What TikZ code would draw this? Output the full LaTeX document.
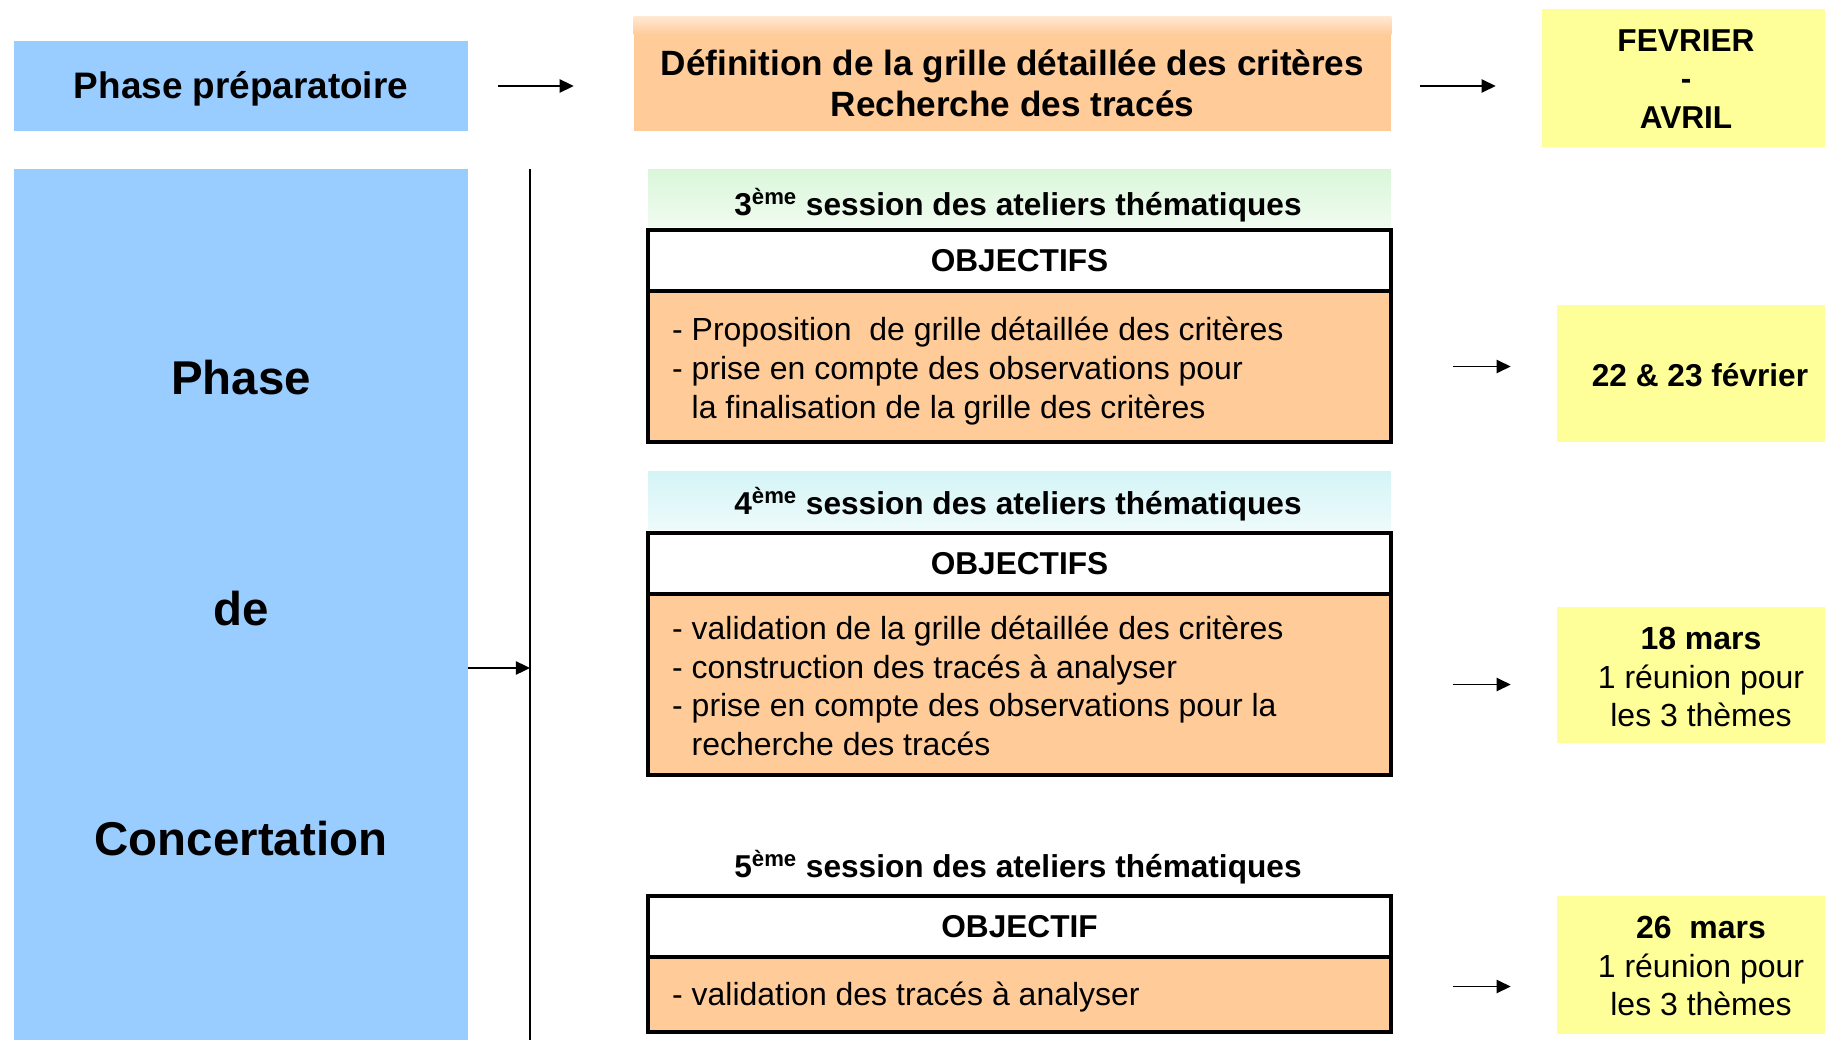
\documentclass[tikz,border=0pt]{standalone}
\usepackage{fontspec}
\setmainfont{Liberation Sans}
\usepackage{tikz}
\usetikzlibrary{arrows.meta,shapes,calc}

\definecolor{bleuphase}{RGB}{153,204,255}
\definecolor{saumon}{RGB}{255,204,153}
\definecolor{saumonclair}{RGB}{255,232,208}
\definecolor{jaune}{RGB}{255,255,153}
\definecolor{vertpale}{RGB}{218,246,218}
\definecolor{cyanpale}{RGB}{212,244,246}

\begin{document}
\begin{tikzpicture}[x=0.02cm,y=-0.02cm,
  bloc/.style={rectangle,inner sep=0pt,align=center},
  txt/.style={font=\fontsize{18.2}{22}\selectfont},
  gras/.style={font=\fontsize{18}{22}\selectfont\bfseries},
  titre/.style={font=\fontsize{20}{23.5}\selectfont\bfseries},
  grand/.style={font=\fontsize{27}{32}\selectfont\bfseries},
  cadre/.style={draw=black,line width=2.6pt},
  fleche/.style={line width=1.1pt,-{Triangle[length=8pt,width=7.5pt]}}]
\useasboundingbox (0,0) rectangle (1825,1040);

% phase preparatoire
\node[bloc,fill=bleuphase,minimum width=9.08cm,minimum height=1.8cm] (prep) at (241,86) {};
\node[font=\fontsize{21}{25}\selectfont\bfseries] (preptxt) at (241,89) {Phase préparatoire};
\node[bloc,fill=saumon,minimum width=15.14cm,minimum height=2.28cm] (defi) at (1012.5,74) {};
\shade[top color=saumonclair,bottom color=saumon] (defi.north west) rectangle ($(defi.north east)+(0,18)$);
\node[titre,align=center] (defitxt) at (1012.5,83) {Définition de la grille détaillée des critères\\Recherche des tracés};
\node[bloc,fill=jaune,minimum width=5.66cm,minimum height=2.76cm] (fevr) at (1683.5,78) {};
\node[gras,align=center] (fevrtxt) at (1686,79) {FEVRIER\\-\\AVRIL};

\draw[fleche,shorten <=0.6cm,shorten >=1.2cm] (prep.east) -- (prep.east -| defi.west);
\draw[fleche,shorten <=0.58cm,shorten >=0.92cm] (prep.east -| defi.east) -- (prep.east -| fevr.west);

% phase de concertation
\node[bloc,fill=bleuphase,minimum width=9.08cm,minimum height=17.42cm] (concert) at (241,604.5) {};
\node[grand] (phase) at (241,378) {Phase};
\node[grand] (de) at (241,609) {de};
\node[grand] (concertation) at (241,839) {Concertation};

\coordinate (haut) at (530,169);
\coordinate (bas) at (530,1040);
\coordinate (pivot) at (530,668);
\draw[line width=1.2pt] (haut) -- (bas);
\draw[fleche] (concert.east |- pivot) -- (pivot);

% 3eme session
\node[bloc,minimum width=14.86cm,minimum height=1.16cm,top color=vertpale,bottom color=vertpale!40] (tete3) at (1019.5,198) {};
\node[gras] (tete3txt) at (1018,205) {3\textsuperscript{ème} session des ateliers thématiques};
\node[bloc,cadre,fill=white,minimum width=14.86cm,minimum height=1.24cm,gras] (obj3) at (1019.5,261) {OBJECTIFS};
\node[bloc,cadre,fill=saumon,minimum width=14.86cm,minimum height=3.02cm] (corps3) at (1019.5,366.5) {};
\node[txt,align=left,anchor=west] (liste3) at (666,371) {- Proposition\ \ de grille détaillée des critères\\- prise en compte des observations pour\\\hphantom{- }la finalisation de la grille des critères};
\node[bloc,fill=jaune,minimum width=5.36cm,minimum height=2.74cm] (d3) at (1691,373.5) {};
\node[gras] (d3txt) at (1700,375) {22 \& 23 février};
\draw[fleche,shorten <=1.2cm,shorten >=0.92cm] (corps3.east) -- (corps3.east -| d3.west);

% 4eme session
\node[bloc,minimum width=14.86cm,minimum height=1.18cm,top color=cyanpale,bottom color=cyanpale!40] (tete4) at (1019.5,500.5) {};
\node[gras] (tete4txt) at (1018,504) {4\textsuperscript{ème} session des ateliers thématiques};
\node[bloc,cadre,fill=white,minimum width=14.86cm,minimum height=1.24cm,gras] (obj4) at (1019.5,564) {OBJECTIFS};
\node[bloc,cadre,fill=saumon,minimum width=14.86cm,minimum height=3.62cm] (corps4) at (1019.5,684.5) {};
\node[txt,align=left,anchor=west] (liste4) at (666,686) {- validation de la grille détaillée des critères\\- construction des tracés à analyser\\- prise en compte des observations pour la\\\hphantom{- }recherche des tracés};
\node[bloc,fill=jaune,minimum width=5.36cm,minimum height=2.74cm] (d4) at (1691,675) {};
\node[txt,align=center] (d4txt) at (1701,677) {\textbf{18 mars}\\1 réunion pour\\les 3 thèmes};
\draw[fleche,shorten <=1.2cm,shorten >=0.92cm] (corps4.east) -- (corps4.east -| d4.west);

% 5eme session
\node[gras] (tete5) at (1018,867) {5\textsuperscript{ème} session des ateliers thématiques};
\node[bloc,cadre,fill=white,minimum width=14.86cm,minimum height=1.24cm,gras] (obj5) at (1019.5,927) {OBJECTIF};
\node[bloc,cadre,fill=saumon,minimum width=14.86cm,minimum height=1.5cm] (corps5) at (1019.5,994.5) {};
\node[txt,align=left,anchor=west] (liste5) at (666,997) {- validation des tracés à analyser};
\node[bloc,fill=jaune,minimum width=5.36cm,minimum height=2.76cm] (d5) at (1691,965) {};
\node[txt,align=center] (d5txt) at (1701,966) {\textbf{26\ \ mars}\\1 réunion pour\\les 3 thèmes};
\draw[fleche,shorten <=1.2cm,shorten >=0.92cm] ($(corps5.east)+(0,-8)$) -- ($(corps5.east -| d5.west)+(0,-8)$);
\end{tikzpicture}
\end{document}
